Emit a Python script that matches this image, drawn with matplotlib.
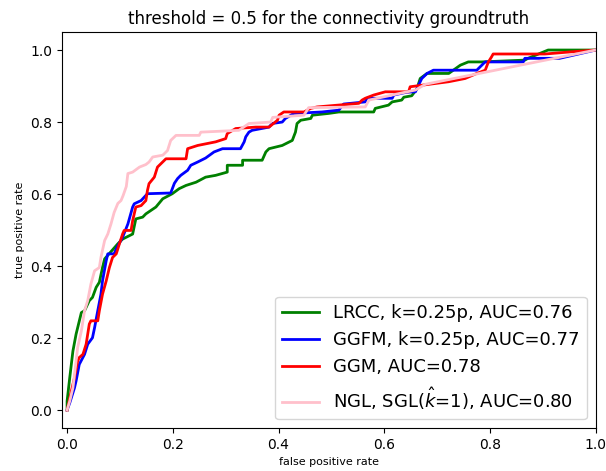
import matplotlib
matplotlib.use("Agg")
import matplotlib.pyplot as plt

# ROC points (false positive rate, true positive rate)
lrcc_fpr = [0, 0, 0.005, 0.011, 0.017, 0.027, 0.033, 0.042, 0.048, 0.055, 0.061, 0.067, 0.071,
            0.08, 0.096, 0.105, 0.124, 0.13, 0.143, 0.149, 0.168, 0.181, 0.199, 0.212, 0.225,
            0.244, 0.262, 0.281, 0.303, 0.303, 0.332, 0.332, 0.369, 0.376, 0.382, 0.407, 0.426,
            0.432, 0.435, 0.442, 0.461, 0.464, 0.495, 0.514, 0.58, 0.583, 0.608, 0.615, 0.633,
            0.637, 0.652, 0.662, 0.668, 0.681, 0.722, 0.744, 0.759, 0.784, 0.866, 0.872, 0.91, 1.0]
lrcc_tpr = [0, 0.025, 0.09, 0.164, 0.211, 0.271, 0.276, 0.304, 0.313, 0.341, 0.355, 0.396, 0.42,
            0.435, 0.462, 0.475, 0.489, 0.531, 0.536, 0.545, 0.564, 0.587, 0.601, 0.615, 0.624,
            0.633, 0.647, 0.652, 0.661, 0.68, 0.68, 0.694, 0.694, 0.717, 0.726, 0.735, 0.749,
            0.772, 0.796, 0.805, 0.81, 0.819, 0.824, 0.828, 0.828, 0.838, 0.847, 0.856, 0.861,
            0.869, 0.873, 0.893, 0.921, 0.935, 0.935, 0.958, 0.967, 0.967, 0.972, 0.977, 1.0, 1.0]

ggfm_fpr = [0, 0.005, 0.014, 0.017, 0.023, 0.033, 0.039, 0.048, 0.052, 0.058, 0.064, 0.067, 0.074,
            0.077, 0.089, 0.093, 0.105, 0.115, 0.124, 0.127, 0.14, 0.152, 0.196, 0.203, 0.209,
            0.215, 0.228, 0.234, 0.247, 0.262, 0.278, 0.294, 0.328, 0.335, 0.338, 0.344, 0.35,
            0.382, 0.388, 0.407, 0.413, 0.429, 0.482, 0.514, 0.523, 0.564, 0.567, 0.615, 0.618,
            0.643, 0.659, 0.665, 0.671, 0.681, 0.693, 0.775, 0.788, 0.791, 0.863, 0.866, 0.932, 1.0]
ggfm_tpr = [0, 0.02, 0.062, 0.081, 0.127, 0.155, 0.183, 0.201, 0.229, 0.276, 0.322, 0.359, 0.415,
            0.434, 0.434, 0.448, 0.48, 0.517, 0.564, 0.573, 0.582, 0.601, 0.603, 0.63, 0.643,
            0.652, 0.666, 0.68, 0.689, 0.70, 0.717, 0.726, 0.726, 0.745, 0.759, 0.772, 0.777,
            0.786, 0.796, 0.80, 0.81, 0.824, 0.828, 0.833, 0.85, 0.856, 0.866, 0.866, 0.875,
            0.883, 0.884, 0.903, 0.921, 0.935, 0.944, 0.944, 0.963, 0.967, 0.967, 0.977, 0.977, 1.0]

ggm_fpr = [0, 0.008, 0.014, 0.02, 0.023, 0.03, 0.036, 0.042, 0.045, 0.058, 0.061, 0.067, 0.074,
           0.08, 0.086, 0.093, 0.099, 0.105, 0.108, 0.121, 0.124, 0.127, 0.13, 0.14, 0.149,
           0.152, 0.155, 0.165, 0.171, 0.187, 0.225, 0.228, 0.247, 0.281, 0.30, 0.303, 0.319,
           0.357, 0.382, 0.398, 0.401, 0.41, 0.448, 0.461, 0.473, 0.552, 0.558, 0.564, 0.58,
           0.602, 0.646, 0.649, 0.696, 0.722, 0.753, 0.775, 0.791, 0.797, 0.803, 0.806, 0.904,
           0.954, 1.0]
ggm_tpr = [0, 0.053, 0.09, 0.136, 0.146, 0.155, 0.183, 0.239, 0.248, 0.248, 0.276, 0.322, 0.359,
           0.396, 0.424, 0.434, 0.462, 0.489, 0.499, 0.499, 0.526, 0.545, 0.564, 0.568, 0.582,
           0.61, 0.629, 0.647, 0.675, 0.698, 0.698, 0.726, 0.735, 0.745, 0.754, 0.768, 0.782,
           0.786, 0.786, 0.805, 0.819, 0.828, 0.828, 0.838, 0.842, 0.852, 0.861, 0.866, 0.875,
           0.884, 0.884, 0.898, 0.907, 0.912, 0.921, 0.935, 0.944, 0.967, 0.981, 0.989, 0.989,
           0.995, 1.0]

ngl_fpr = [0, 0.005, 0.011, 0.017, 0.02, 0.027, 0.033, 0.039, 0.045, 0.052, 0.061, 0.064, 0.071,
           0.077, 0.083, 0.089, 0.096, 0.102, 0.106, 0.112, 0.115, 0.124, 0.137, 0.149, 0.155,
           0.162, 0.181, 0.19, 0.196, 0.206, 0.25, 0.253, 0.325, 0.344, 0.385, 0.389, 0.448,
           0.457, 0.564, 0.571, 0.615, 0.659, 0.678, 1.0]
ngl_tpr = [0, 0.025, 0.062, 0.136, 0.174, 0.22, 0.276, 0.304, 0.35, 0.387, 0.396, 0.424, 0.471,
           0.489, 0.517, 0.549, 0.574, 0.582, 0.596, 0.621, 0.657, 0.661, 0.675, 0.682, 0.689,
           0.703, 0.708, 0.721, 0.749, 0.763, 0.763, 0.772, 0.777, 0.796, 0.80, 0.813, 0.819,
           0.84, 0.842, 0.861, 0.875, 0.889, 0.905, 1.0]

labels = ["LRCC, k=0.25p, AUC=0.76",
          "GGFM, k=0.25p, AUC=0.77",
          "GGM, AUC=0.78",
          r"NGL, SGL($\hat{k}$=1), AUC=0.80"]
colors = ["green", "blue", "red", "pink"]


def main():
    fig, ax = plt.subplots(figsize=(6.06, 4.71), dpi=100)
    fig.subplots_adjust(left=0.102, right=0.983, bottom=0.091, top=0.932)

    curves = [(lrcc_fpr, lrcc_tpr), (ggfm_fpr, ggfm_tpr), (ggm_fpr, ggm_tpr), (ngl_fpr, ngl_tpr)]
    for (fpr, tpr), lab, col in zip(curves, labels, colors):
        ax.plot(fpr, tpr, color=col, lw=2, label=lab)

    ax.set_xlim(-0.01, 1.0)
    ax.set_ylim(-0.05, 1.05)
    ax.set_title("threshold = 0.5 for the connectivity groundtruth", fontsize=12)
    ax.set_xlabel("false positive rate", fontsize=8)
    ax.set_ylabel("true positive rate", fontsize=8)
    ax.legend(loc="lower right", fontsize=13)

    fig.savefig("out.png", dpi=100)


main()
